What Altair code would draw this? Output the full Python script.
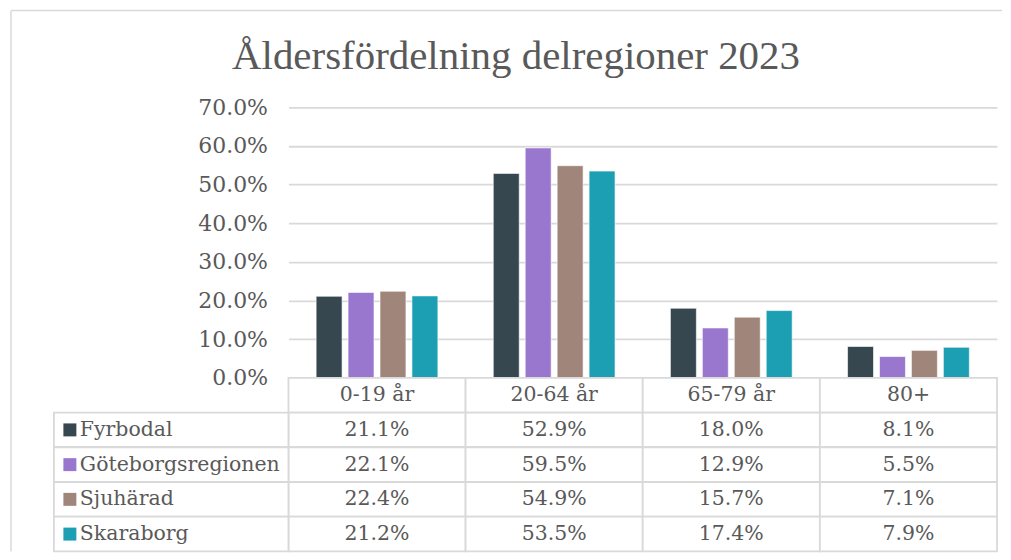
import altair as alt
import pandas as pd

# ---- data ----
title_text = "Åldersfördelning delregioner 2023"
categories = ["0-19 år", "20-64 år", "65-79 år", "80+"]
regions = ["Fyrbodal", "Göteborgsregionen", "Sjuhärad", "Skaraborg"]
fyrbodal = [21.1, 52.9, 18.0, 8.1]
goteborgsregionen = [22.1, 59.5, 12.9, 5.5]
sjuharad = [22.4, 54.9, 15.7, 7.1]
skaraborg = [21.2, 53.5, 17.4, 7.9]
colors = ["#37474f", "#9a77cf", "#a0857a", "#1c9fb3"]
y_ticks = [0.0, 0.1, 0.2, 0.3, 0.4, 0.5, 0.6, 0.7]

series = [fyrbodal, goteborgsregionen, sjuharad, skaraborg]
records = []
for r, vals in zip(regions, series):
    for c, v in zip(categories, vals):
        records.append({"region": r, "category": c, "value": v / 100})
df = pd.DataFrame(records)

header_key = "hdr"
row_domain = [header_key] + regions
cells_df = pd.DataFrame([{"category": c, "row": r} for r in row_domain for c in categories])
header_df = pd.DataFrame({"category": categories, "row": [header_key] * len(categories)})
labels_df = pd.DataFrame({"row": regions})
one = pd.DataFrame({"k": [0]})
title_df = pd.DataFrame({"t": [title_text]})

# ---- style ----
W, H, TH = 710, 271, 174
GRID = "#d9d9d9"
TEXT = "#595959"
FONT = "DejaVu Serif"
TITLE_FONT = "Liberation Serif"
FS = 20.5
LW = 1.8

x_scale = alt.Scale(domain=categories, paddingInner=0, paddingOuter=0)
color_scale = alt.Scale(domain=regions, range=colors)
row_scale = alt.Scale(domain=row_domain, paddingInner=0, paddingOuter=0)

# ---- top: bar chart ----
bars = alt.Chart(df).mark_bar(stroke="white", strokeWidth=0.6).encode(
    x=alt.X("category:N", scale=x_scale, axis=None, sort=categories),
    xOffset=alt.XOffset("region:N", scale=alt.Scale(domain=regions, paddingInner=0.1875, paddingOuter=0.867)),
    y=alt.Y(
        "value:Q",
        scale=alt.Scale(domain=[0, 0.7], nice=False),
        axis=alt.Axis(
            values=y_ticks, format=".1%", title=None, grid=True, gridColor=GRID, gridWidth=LW,
            domain=False, ticks=False, labelFont=FONT, labelFontSize=22, labelColor=TEXT,
            labelPadding=21,
        ),
    ),
    color=alt.Color("region:N", scale=color_scale, legend=None),
)

border_top = alt.Chart(one).mark_rule(color=GRID, strokeWidth=1.5).encode(
    x=alt.value(-278), x2=alt.value(715), y=alt.value(-97)
)
border_left_top = alt.Chart(one).mark_rule(color=GRID, strokeWidth=1.5).encode(
    x=alt.value(-278), y=alt.value(-97), y2=alt.value(H)
)
title_mark = alt.Chart(title_df).mark_text(
    font=TITLE_FONT, fontSize=41, color=TEXT, align="center", baseline="alphabetic"
).encode(x=alt.value(228), y=alt.value(-38), text="t:N")

top = alt.layer(border_top, border_left_top, title_mark, bars).properties(width=W, height=H)

# ---- bottom: data table ----
cells = alt.Chart(cells_df).mark_rect(fill="white", stroke=GRID, strokeWidth=LW).encode(
    x=alt.X("category:N", scale=x_scale, axis=None),
    y=alt.Y("row:N", scale=row_scale, axis=None),
)
label_cells = alt.Chart(labels_df).mark_rect(fill="white", stroke=GRID, strokeWidth=LW).encode(
    x=alt.value(-235), x2=alt.value(0),
    y=alt.Y("row:N", scale=row_scale, axis=None),
)
swatches = alt.Chart(labels_df).mark_square(size=169, opacity=1).encode(
    x=alt.value(-219),
    y=alt.Y("row:N", scale=row_scale, axis=None),
    color=alt.Color("row:N", scale=color_scale, legend=None),
)
label_text = alt.Chart(labels_df).mark_text(align="left", font=FONT, fontSize=FS, color=TEXT).encode(
    x=alt.value(-209),
    y=alt.Y("row:N", scale=row_scale, axis=None),
    text="row:N",
)
header_text = alt.Chart(header_df).mark_text(align="center", font=FONT, fontSize=FS, color=TEXT).encode(
    x=alt.X("category:N", scale=x_scale, axis=None),
    y=alt.Y("row:N", scale=row_scale, axis=None),
    text="category:N",
)
value_text = alt.Chart(df).mark_text(align="center", font=FONT, fontSize=FS, color=TEXT).encode(
    x=alt.X("category:N", scale=x_scale, axis=None),
    y=alt.Y("region:N", scale=row_scale, axis=None),
    text=alt.Text("value:Q", format=".1%"),
)
border_left_bottom = alt.Chart(one).mark_rule(color=GRID, strokeWidth=1.5).encode(
    x=alt.value(-278), y=alt.value(0), y2=alt.value(TH)
)

bottom = alt.layer(
    border_left_bottom, cells, label_cells, swatches, label_text, header_text, value_text
).properties(width=W, height=TH)

chart = (
    alt.vconcat(top, bottom, spacing=0, bounds="flush")
    .properties(
        padding={"left": 2, "top": 1, "right": 0, "bottom": 0},
        background="white",
    )
    .configure_view(strokeWidth=0)
)

chart.save("out.html", embed_options={"renderer": "svg", "actions": False})
